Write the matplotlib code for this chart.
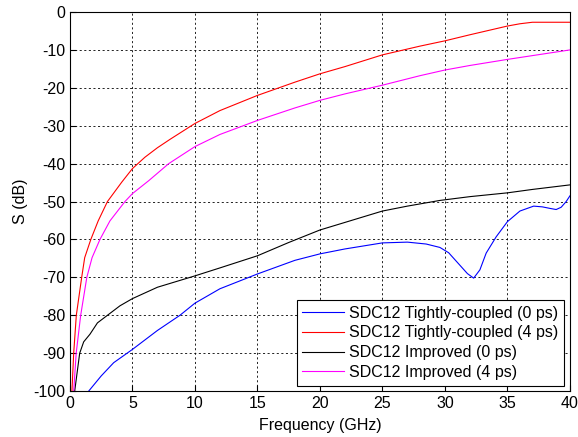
import matplotlib.pyplot as plt
import numpy as np

plt.rcParams['font.family'] = ['Liberation Sans', 'DejaVu Sans']
plt.rcParams['axes.unicode_minus'] = False

# frequency points (GHz) and SDC12 magnitudes (dB) for each structure
f_tight0 = [1.5, 2.5, 3.5, 5, 7, 8.8, 10, 12, 15, 18, 20, 22, 25, 27, 28.5, 29.6,
            30.3, 31.2, 31.8, 32.3, 32.8, 33.3, 34.1, 35, 36, 37.1, 37.8, 38.4, 38.9, 39.3, 39.7, 40]
s_tight0 = [-100, -96, -92.5, -89, -84, -80, -76.8, -73, -69.1, -65.5, -63.8, -62.5, -60.9, -60.7,
            -61.2, -62.1, -63.5, -66.8, -69, -70.2, -68, -63.6, -59.3, -55.3, -52.5, -51.2, -51.4,
            -51.8, -52.1, -51.5, -50, -48.5]

f_tight4 = [0.16, 0.3, 0.51, 0.94, 1.18, 1.67, 2.26, 3.0, 4.14, 5, 6, 7, 8, 9, 10, 12, 15, 18, 20,
            22, 25, 28, 30, 32, 35, 36, 37, 40]
s_tight4 = [-100, -90, -80, -70, -64.8, -60, -55.1, -50, -44.9, -41.3, -38.3, -35.8, -33.6, -31.5,
            -29.4, -26, -22, -18.5, -16.3, -14.4, -11.3, -9, -7.6, -6, -3.7, -3.1, -2.7, -2.7]

f_imp0 = [0.38, 0.78, 1.1, 1.6, 2.2, 3.0, 4, 5, 7, 10, 12, 15, 17.5, 20, 22, 25, 27, 29.6, 32,
          35, 37, 40]
s_imp0 = [-100, -90, -87, -85, -82, -80, -77.5, -75.6, -72.6, -69.6, -67.5, -64.3, -60.8, -57.5,
          -55.5, -52.5, -51.2, -49.7, -48.7, -47.7, -46.8, -45.6]

f_imp4 = [0.3, 0.5, 0.86, 1.35, 1.77, 2.4, 3.2, 4.4, 5, 6.3, 7.9, 10, 12, 15, 18, 20, 22, 25, 28,
          30, 32, 35, 38, 40]
s_imp4 = [-100, -90, -80, -70, -64.8, -60, -55.1, -50, -47.9, -44.5, -40, -35.5, -32.3, -28.6,
          -25.3, -23.3, -21.6, -19.3, -16.8, -15.3, -14.1, -12.5, -11, -10]

fig = plt.figure(figsize=(5.78, 4.37), dpi=100)
ax = fig.add_axes([0.121, 0.105, 0.865, 0.8675])

ax.plot(f_tight0, s_tight0, color='#0000ff', lw=0.8, label='SDC12 Tightly-coupled (0 ps)')
ax.plot(f_tight4, s_tight4, color='#ff0000', lw=0.8, label='SDC12 Tightly-coupled (4 ps)')
ax.plot(f_imp0, s_imp0, color='black', lw=0.8, label='SDC12 Improved (0 ps)')
ax.plot(f_imp4, s_imp4, color='#ff00ff', lw=0.8, label='SDC12 Improved (4 ps)')

ax.set_xlim(0, 40)
ax.set_ylim(-100, 0)
ax.set_xticks(np.arange(0, 41, 5))
ax.set_yticks(np.arange(-100, 1, 10))
ax.grid(True, color='black', linestyle=(0, (2.5, 3)), lw=0.6)
ax.tick_params(direction='in', labelsize=11.5, length=4)
for s in ax.spines.values():
    s.set_linewidth(0.8)

ax.set_xlabel('Frequency (GHz)', fontsize=11.5, labelpad=5)
ax.set_ylabel('S (dB)', fontsize=11.5, labelpad=4)

leg = ax.legend(loc='lower right', fontsize=11.5, fancybox=False, framealpha=1,
                edgecolor='black', borderaxespad=0.35, handlelength=2.6,
                handletextpad=0.35, labelspacing=0.3, borderpad=0.35)
leg.get_frame().set_linewidth(0.8)

fig.savefig('out.png', dpi=100)
